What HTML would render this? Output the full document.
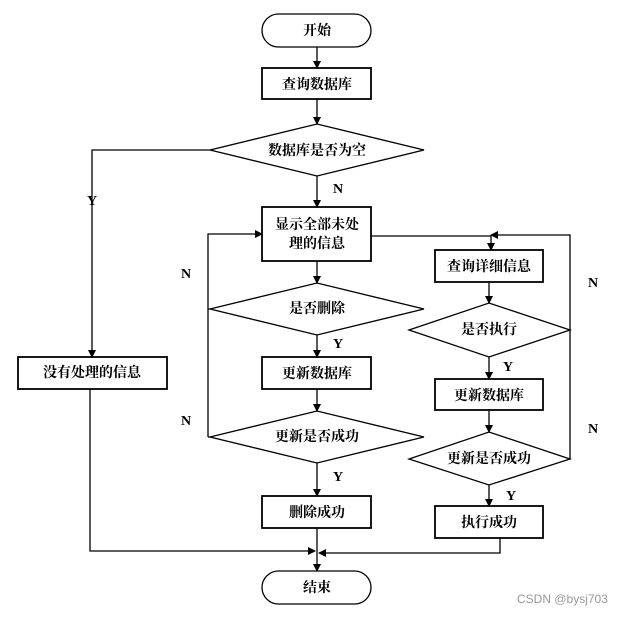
<!DOCTYPE html>
<html><head><meta charset="utf-8"><style>
html,body{margin:0;padding:0;background:#fff;}
svg text{font-family:"Liberation Serif","Noto Serif CJK SC",serif;font-weight:bold;font-size:14px;fill:#000;}
</style></head><body>
<svg width="621" height="616" viewBox="0 0 621 616" xmlns="http://www.w3.org/2000/svg">
<defs><marker id="a" markerWidth="8" markerHeight="8" refX="7" refY="4" orient="auto" markerUnits="userSpaceOnUse"><path d="M0,0 L8,4 L0,8 z" fill="#000"/></marker></defs>
<g fill="none" stroke="#000" stroke-width="1.3">
<rect x="262" y="14" width="109" height="33" rx="16.5"/>
<rect x="262" y="68" width="109" height="31" stroke-width="1.8"/>
<polygon points="210,150 317,124 424,150 317,176"/>
<rect x="262" y="207" width="109" height="54" stroke-width="1.8"/>
<rect x="18" y="357" width="149" height="32" stroke-width="1.8"/>
<polygon points="210,309 317,283 424,309 317,335"/>
<rect x="262" y="357" width="109" height="32" stroke-width="1.8"/>
<polygon points="210,437 317,411 424,437 317,463"/>
<rect x="262" y="496" width="109" height="32" stroke-width="1.8"/>
<rect x="262" y="571" width="109" height="33" rx="16.5"/>
<rect x="435" y="250" width="108" height="32" stroke-width="1.8"/>
<polygon points="409,330 489,303 570,330 489,357"/>
<rect x="435" y="379" width="108" height="31" stroke-width="1.8"/>
<polygon points="409,459 489,432 570,459 489,485"/>
<rect x="435" y="506" width="108" height="32" stroke-width="1.8"/>
<!-- connectors -->
<line x1="317" y1="47" x2="317" y2="68" marker-end="url(#a)"/>
<line x1="317" y1="99" x2="317" y2="124" marker-end="url(#a)"/>
<line x1="317" y1="176" x2="317" y2="207" marker-end="url(#a)"/>
<polyline points="210,150 92,150 92,357" marker-end="url(#a)"/>
<line x1="317" y1="261" x2="317" y2="283" marker-end="url(#a)"/>
<line x1="317" y1="335" x2="317" y2="357" marker-end="url(#a)"/>
<line x1="317" y1="389" x2="317" y2="411" marker-end="url(#a)"/>
<line x1="317" y1="463" x2="317" y2="496" marker-end="url(#a)"/>
<polyline points="210,309 208,309 208,234 262,234" marker-end="url(#a)"/>
<line x1="208" y1="309" x2="208" y2="437"/>
<line x1="208" y1="437" x2="210" y2="437"/>
<polyline points="371,236 491,236 491,250" marker-end="url(#a)"/>
<polyline points="570,330 570,235 491,235" marker-end="url(#a)"/>
<line x1="570" y1="330" x2="570" y2="459"/>
<line x1="489" y1="282" x2="489" y2="303" marker-end="url(#a)"/>
<line x1="489" y1="357" x2="489" y2="379" marker-end="url(#a)"/>
<line x1="489" y1="410" x2="489" y2="432" marker-end="url(#a)"/>
<line x1="489" y1="485" x2="489" y2="506" marker-end="url(#a)"/>
<line x1="317" y1="528" x2="317" y2="571" marker-end="url(#a)"/>
<polyline points="90,389 90,551 315,551" marker-end="url(#a)"/>
<polyline points="500,538 500,553 319,553" marker-end="url(#a)"/>
</g>
<g text-anchor="middle">
<text x="317" y="35">开始</text>
<text x="317" y="89">查询数据库</text>
<text x="317" y="155">数据库是否为空</text>
<text x="317" y="229">显示全部未处</text>
<text x="317" y="248">理的信息</text>
<text x="92" y="377">没有处理的信息</text>
<text x="317" y="313">是否删除</text>
<text x="317" y="378">更新数据库</text>
<text x="317" y="441">更新是否成功</text>
<text x="317" y="517">删除成功</text>
<text x="317" y="592">结束</text>
<text x="489" y="271">查询详细信息</text>
<text x="489" y="334">是否执行</text>
<text x="489" y="400">更新数据库</text>
<text x="489" y="463">更新是否成功</text>
<text x="489" y="527">执行成功</text>
<text x="92" y="205">Y</text>
<text x="338" y="193">N</text>
<text x="186" y="278">N</text>
<text x="186" y="425">N</text>
<text x="338" y="348">Y</text>
<text x="338" y="481">Y</text>
<text x="593" y="287">N</text>
<text x="593" y="433">N</text>
<text x="508" y="371">Y</text>
<text x="511" y="500">Y</text>
</g>
<text x="517" y="603" style="font-family:'Liberation Sans',sans-serif;font-weight:normal;font-size:12px;fill:#999">CSDN @bysj703</text>
</svg>
</body></html>
